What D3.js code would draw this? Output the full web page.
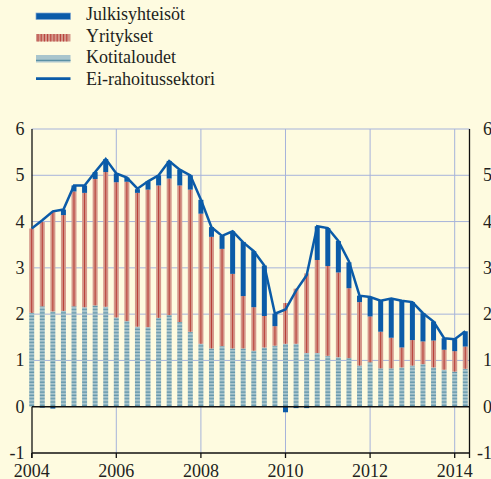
<!DOCTYPE html>
<html><head><meta charset="utf-8">
<script src="https://cdn.jsdelivr.net/npm/d3@7"></script>
<style>html,body{margin:0;padding:0;background:#fefbe0;} svg{display:block;}</style>
</head><body><svg id="c" width="491" height="479"></svg>
<script>
const quarters = ["2004Q1","2004Q2","2004Q3","2004Q4","2005Q1","2005Q2","2005Q3","2005Q4",
  "2006Q1","2006Q2","2006Q3","2006Q4","2007Q1","2007Q2","2007Q3","2007Q4",
  "2008Q1","2008Q2","2008Q3","2008Q4","2009Q1","2009Q2","2009Q3","2009Q4",
  "2010Q1","2010Q2","2010Q3","2010Q4","2011Q1","2011Q2","2011Q3","2011Q4",
  "2012Q1","2012Q2","2012Q3","2012Q4","2013Q1","2013Q2","2013Q3","2013Q4",
  "2014Q1","2014Q2"];
const kotitaloudet = [2.03,2.17,2.06,2.07,2.17,2.15,2.19,2.16,1.93,1.85,1.73,1.72,1.92,1.98,1.83,1.62,
  1.36,1.26,1.31,1.26,1.26,1.21,1.28,1.32,1.36,1.36,1.16,1.16,1.10,1.07,1.05,0.89,
  0.96,0.83,0.83,0.85,0.89,0.92,0.85,0.80,0.76,0.82];
const yritykset = [1.82,1.82,2.15,2.07,2.48,2.47,2.73,2.91,2.92,3.01,2.89,2.97,2.86,2.95,2.95,3.07,
  2.81,2.41,2.10,1.61,1.13,0.94,0.68,0.42,0.88,1.19,1.72,2.01,1.94,1.83,1.51,1.37,
  0.99,0.79,0.66,0.43,0.55,0.49,0.58,0.43,0.44,0.48];
const julkisyhteisot = [0.00,-0.02,-0.04,0.12,0.13,0.16,0.15,0.28,0.19,0.09,0.08,0.18,0.22,0.38,0.34,0.31,
  0.30,0.21,0.28,0.92,1.17,1.21,1.09,0.27,-0.12,-0.03,-0.03,0.73,0.82,0.68,0.56,0.14,
  0.42,0.67,0.85,1.01,0.82,0.61,0.41,0.25,0.26,0.33];
const eiRahoitussektori = [3.85,4.03,4.22,4.26,4.78,4.78,5.07,5.35,5.04,4.95,4.71,4.87,5.00,5.31,5.12,5.00,
  4.47,3.88,3.69,3.79,3.55,3.36,3.05,2.01,2.10,2.51,2.84,3.90,3.86,3.58,3.14,2.40,
  2.37,2.29,2.34,2.29,2.26,2.02,1.84,1.48,1.46,1.63];
const yTicks = [-1,0,1,2,3,4,5,6];
const xTicks = [2004,2006,2008,2010,2012,2014];
const legendLabels = ["Julkisyhteisöt","Yritykset","Kotitaloudet","Ei-rahoitussektori"];

const C = {bg:"#fefbe0", blue:"#0b5ba8", salmon:"#d4978a", red:"#b73d36", hh:"#a9c5cd", hhDash:"#5a90a5",
  grid:"#a6b3da", text:"#231f20"};
const FONT = "'Liberation Serif','Times New Roman',serif";

const svg = d3.select("#c");
svg.append("rect").attr("width",491).attr("height",479).attr("fill",C.bg);

const defs = svg.append("defs");
const pat = defs.append("pattern").attr("id","hhPat").attr("patternUnits","userSpaceOnUse")
  .attr("width",10).attr("height",3.3);
pat.append("rect").attr("width",10).attr("height",3.3).attr("fill",C.hh);
pat.append("rect").attr("y",2.1).attr("width",10).attr("height",1.1).attr("fill",C.hhDash);

const qYear = q => +q.slice(0,4) + (+q.slice(5)-1)/4;
const x = d3.scaleLinear().domain([2004, 2014.35]).range([31.7, 469.5]);
const y = d3.scaleLinear().domain([-1, 6]).range([453, 129]);
const L = x.range()[0], R = x.range()[1];

// gridlines
const g = svg.append("g");
g.selectAll("line.h").data(yTicks.filter(v => v > 0)).join("line")
  .attr("x1", L).attr("x2", R).attr("y1", d => y(d)).attr("y2", d => y(d))
  .attr("stroke", C.grid).attr("stroke-width", 1);
g.selectAll("line.v").data(xTicks.slice(1)).join("line")
  .attr("x1", d => x(d)).attr("x2", d => x(d)).attr("y1", y(6)).attr("y2", y(-1))
  .attr("stroke", C.grid).attr("stroke-width", 1);

// axes frame
const ax = svg.append("g").attr("stroke", "#111").attr("stroke-width", 1.3);
ax.append("line").attr("x1", 32).attr("x2", 32).attr("y1", y(6)).attr("y2", y(-1) + 5);
ax.append("line").attr("x1", R).attr("x2", R).attr("y1", y(6)).attr("y2", y(-1) + 5);
ax.append("line").attr("x1", 32).attr("x2", R).attr("y1", y(-1)).attr("y2", y(-1));
ax.selectAll("line.t").data(xTicks).join("line")
  .attr("x1", d => x(d)).attr("x2", d => x(d)).attr("y1", y(-1)).attr("y2", y(-1) + 5);

// bars
const bw = 5;
const data = quarters.map((q, i) => ({t: qYear(q), hh: kotitaloudet[i], co: yritykset[i], pu: julkisyhteisot[i]}));
const bars = svg.append("g");
bars.selectAll("rect.hh").data(data).join("rect")
  .attr("x", d => x(d.t) - bw/2).attr("width", bw)
  .attr("y", d => y(d.hh)).attr("height", d => y(0) - y(d.hh))
  .attr("fill", "url(#hhPat)");
bars.selectAll("rect.co").data(data).join("rect")
  .attr("x", d => x(d.t) - bw/2).attr("width", bw)
  .attr("y", d => y(d.hh + d.co)).attr("height", d => y(d.hh) - y(d.hh + d.co))
  .attr("fill", C.salmon);
bars.selectAll("line.co").data(data).join("line")
  .attr("x1", d => x(d.t)).attr("x2", d => x(d.t))
  .attr("y1", d => y(d.hh + d.co)).attr("y2", d => y(d.hh))
  .attr("stroke", C.red).attr("stroke-width", 1);
bars.selectAll("rect.pu").data(data).join("rect")
  .attr("x", d => x(d.t) - bw/2).attr("width", bw)
  .attr("y", d => d.pu >= 0 ? y(d.hh + d.co + d.pu) : y(0))
  .attr("height", d => d.pu >= 0 ? y(d.hh + d.co) - y(d.hh + d.co + d.pu) : y(d.pu) - y(0))
  .attr("fill", C.blue);

// zero line
svg.append("line").attr("x1", 32).attr("x2", R).attr("y1", y(0)).attr("y2", y(0))
  .attr("stroke", "#111").attr("stroke-width", 1.6);

// total line
svg.append("path").datum(eiRahoitussektori.map((v, i) => [qYear(quarters[i]), v]))
  .attr("fill", "none").attr("stroke", C.blue).attr("stroke-width", 2.5).attr("stroke-linejoin", "miter")
  .attr("d", d3.line().x(d => x(d[0])).y(d => y(d[1])));

// tick labels
const tl = svg.append("g").attr("font-family", FONT).attr("font-size", 18).attr("fill", C.text);
tl.selectAll("text.l").data(yTicks).join("text")
  .attr("x", 24.5).attr("y", d => y(d) + 6).attr("text-anchor", "end").text(d => d);
tl.selectAll("text.r").data(yTicks).join("text")
  .attr("x", 492).attr("y", d => y(d) + 6).attr("text-anchor", "end").text(d => d);
tl.selectAll("text.x").data(xTicks).join("text")
  .attr("x", d => x(d)).attr("y", 477).attr("text-anchor", "middle").text(d => d);

// legend
const lg = svg.append("g");
const base = [20, 41.7, 63.3, 85];
lg.append("rect").attr("x", 36).attr("y", 13).attr("width", 34.5).attr("height", 6.5)
  .attr("fill", C.blue).attr("stroke", "#7ea5d2").attr("stroke-width", 0.7);
lg.append("rect").attr("x", 36).attr("y", 34).attr("width", 34.5).attr("height", 7.5).attr("fill", C.salmon);
lg.selectAll("line.st").data(d3.range(38, 70, 3.2)).join("line")
  .attr("x1", d => d).attr("x2", d => d).attr("y1", 34).attr("y2", 41.5)
  .attr("stroke", C.red).attr("stroke-width", 1);
lg.append("rect").attr("x", 36).attr("y", 55).attr("width", 34.5).attr("height", 7.5).attr("fill", C.hh);
lg.append("line").attr("x1", 36).attr("x2", 70.5).attr("y1", 60.3).attr("y2", 60.3)
  .attr("stroke", C.hhDash).attr("stroke-width", 1.2);
lg.append("line").attr("x1", 36).attr("x2", 70.5).attr("y1", 78.7).attr("y2", 78.7)
  .attr("stroke", C.blue).attr("stroke-width", 2.8);
lg.selectAll("text").data(legendLabels).join("text")
  .attr("x", 86).attr("y", (d, i) => base[i])
  .attr("font-family", FONT).attr("font-size", 18).attr("fill", C.text).text(d => d);
</script></body></html>
